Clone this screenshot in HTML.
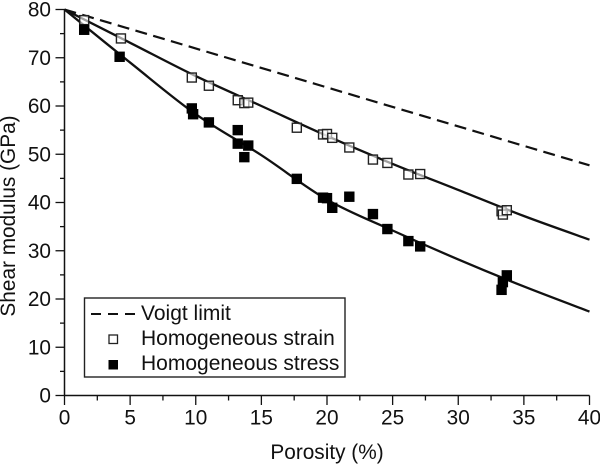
<!DOCTYPE html>
<html>
<head>
<meta charset="utf-8">
<title>Shear modulus vs porosity</title>
<style>
html,body{margin:0;padding:0;background:#fff;}
svg{display:block;font-family:"Liberation Sans",Arial,sans-serif;fill:#111;}
</style>
</head>
<body>
<svg id="chart" width="600" height="464" viewBox="0 0 600 464" xmlns="http://www.w3.org/2000/svg"></svg>
<script>
const xMajorTicks = [0, 5, 10, 15, 20, 25, 30, 35, 40];
const xMinorTicks = [2.5, 7.5, 12.5, 17.5, 22.5, 27.5, 32.5, 37.5];
const yMajorTicks = [0, 10, 20, 30, 40, 50, 60, 70, 80];
const yMinorTicks = [5, 15, 25, 35, 45, 55, 65, 75];

const voigtX = [0, 40];
const voigtY = [80, 47.7];
const strainFitX = [0, 5, 10, 15, 20, 25, 30, 35, 40];
const strainFitY = [80, 73.1, 66.2, 60.0, 53.8, 48.0, 42.6, 37.2, 32.3];
const stressFitX = [0, 5, 10, 15, 20, 25, 30, 35, 40];
const stressFitY = [80, 69.0, 58.3, 49.8, 40.6, 34.2, 28.2, 22.6, 17.4];

const strainPorosity = [1.5, 4.3, 9.7, 11, 13.2, 13.7, 14, 17.7, 19.7, 20, 20.4, 21.7, 23.5, 24.6, 26.2, 27.1, 33.3, 33.4, 33.7];
const strainModulus = [77.8, 74, 65.9, 64.2, 61.2, 60.6, 60.7, 55.5, 54.1, 54.2, 53.4, 51.4, 48.9, 48.2, 45.8, 45.9, 38.2, 37.5, 38.4];
const stressPorosity = [1.5, 4.2, 9.7, 9.8, 11, 13.2, 13.2, 13.7, 14, 17.7, 19.7, 20, 20.4, 21.7, 23.5, 24.6, 26.2, 27.1, 33.3, 33.4, 33.7];
const stressModulus = [75.8, 70.2, 59.5, 58.3, 56.6, 55, 52.2, 49.4, 51.8, 44.9, 41, 40.9, 38.9, 41.2, 37.6, 34.5, 32, 30.9, 21.9, 23.5, 24.9];

const svg = document.getElementById('chart');
const NS = 'http://www.w3.org/2000/svg';
const INK = '#111';
const FONT = 20.8;
function sx(v) { return 64.5 + v * 13.125; }
function sy(v) { return 395.5 - v * 4.825; }
function make(tag, attrs, text) {
  const el = document.createElementNS(NS, tag);
  for (const k in attrs) el.setAttribute(k, attrs[k]);
  if (text !== undefined) el.textContent = text;
  svg.appendChild(el);
  return el;
}
function curvePath(xs, ys) {
  const p = xs.map((x, i) => [sx(x), sy(ys[i])]);
  let d = 'M' + p[0][0] + ' ' + p[0][1];
  for (let i = 0; i < p.length - 1; i++) {
    const a = p[Math.max(i - 1, 0)], b = p[i], c = p[i + 1], e = p[Math.min(i + 2, p.length - 1)];
    d += ' C' + (b[0] + (c[0] - a[0]) / 6) + ' ' + (b[1] + (c[1] - a[1]) / 6) + ' ' +
         (c[0] - (e[0] - b[0]) / 6) + ' ' + (c[1] - (e[1] - b[1]) / 6) + ' ' + c[0] + ' ' + c[1];
  }
  return d;
}

// Series lines
let el = make('line', {x1: sx(voigtX[0]), y1: sy(voigtY[0]), x2: sx(voigtX[1]), y2: sy(voigtY[1]), stroke: INK, 'stroke-width': 2.2, 'stroke-dasharray': '12 6.5'});


el = make('path', {d: curvePath(strainFitX, strainFitY), fill: 'none', stroke: INK, 'stroke-width': 2.3});


el = make('path', {d: curvePath(stressFitX, stressFitY), fill: 'none', stroke: INK, 'stroke-width': 2.3});



// Axes
el = make('line', {x1: 64.5, y1: sy(80), x2: 64.5, y2: 396, stroke: INK, 'stroke-width': 1.5});


el = make('line', {x1: 64, y1: 395.5, x2: 589.5, y2: 395.5, stroke: INK, 'stroke-width': 1.5});



xMajorTicks.forEach(v => {
  const t = make('line', {x1: sx(v), y1: 395.5, x2: sx(v), y2: 405, stroke: INK, 'stroke-width': 1.3});
  
  
  const l = make('text', {x: sx(v), y: 424.5, 'font-size': FONT, 'text-anchor': 'middle'}, String(v));
  
  
});
xMinorTicks.forEach(v => {
  const t = make('line', {x1: sx(v), y1: 395.5, x2: sx(v), y2: 400.5, stroke: INK, 'stroke-width': 1.3});
  
  
});
yMajorTicks.forEach(v => {
  const t = make('line', {x1: 55.5, y1: sy(v), x2: 64.5, y2: sy(v), stroke: INK, 'stroke-width': 1.3});
  
  
  const l = make('text', {x: 51, y: sy(v) + 7.2, 'font-size': FONT, 'text-anchor': 'end'}, String(v));
  
  
});
yMinorTicks.forEach(v => {
  const t = make('line', {x1: 60, y1: sy(v), x2: 64.5, y2: sy(v), stroke: INK, 'stroke-width': 1.3});
  
  
});

// Markers
strainPorosity.forEach((x, i) => {
  const m = make('rect', {x: sx(x) - 4.5, y: sy(strainModulus[i]) - 4.5, width: 9, height: 9, fill: '#fff', 'fill-opacity': 0.6, stroke: '#222', 'stroke-width': 1.4});
  
  
});
stressPorosity.forEach((x, i) => {
  const m = make('rect', {x: sx(x) - 5.2, y: sy(stressModulus[i]) - 5.2, width: 10.4, height: 10.4, fill: '#000'});
  
  
});

// Axis titles
el = make('text', {x: 327, y: 459, 'font-size': FONT, 'text-anchor': 'middle'}, 'Porosity (%)');


el = make('text', {x: 0, y: 0, 'font-size': FONT, 'text-anchor': 'middle', transform: 'translate(15 216) rotate(-90)'}, 'Shear modulus (GPa)');



// Legend
el = make('rect', {x: 84.5, y: 298, width: 260.5, height: 79, fill: '#fff', stroke: '#222', 'stroke-width': 1.4});


el = make('line', {x1: 91, y1: 314, x2: 135, y2: 314, stroke: INK, 'stroke-width': 2.1, 'stroke-dasharray': '10 7'});


el = make('rect', {x: 109, y: 335, width: 8.5, height: 8.5, fill: '#fff', stroke: '#222', 'stroke-width': 1.3});


el = make('rect', {x: 108.5, y: 360, width: 9.5, height: 9.5, fill: '#000'});


el = make('text', {x: 141, y: 320, 'font-size': 21}, 'Voigt limit');


el = make('text', {x: 141, y: 345, 'font-size': 21}, 'Homogeneous strain');


el = make('text', {x: 141, y: 370, 'font-size': 21}, 'Homogeneous stress');


</script>
</body>
</html>
